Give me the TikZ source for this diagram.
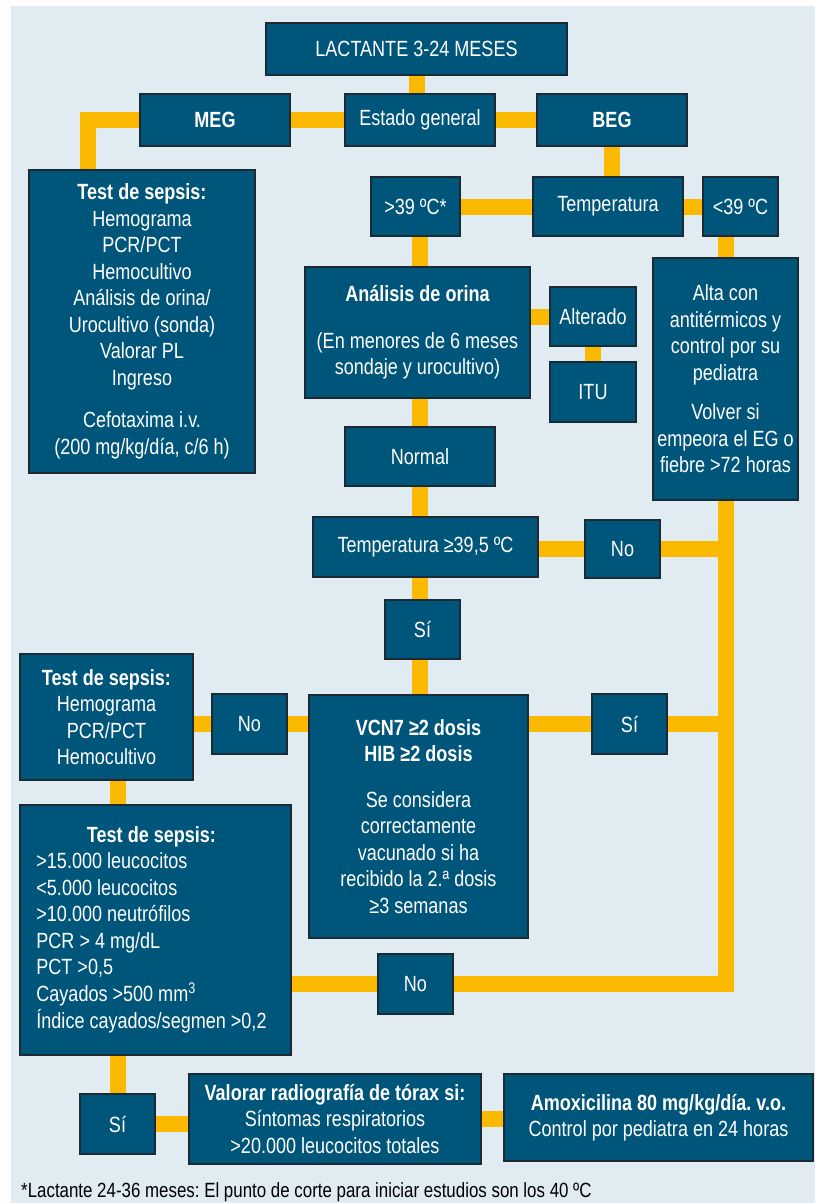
\documentclass[tikz,border=0pt]{standalone}
\usepackage{fontspec}
\setmainfont{Liberation Sans}[FakeStretch=0.82]
\usepackage{tikz}
\usetikzlibrary{positioning, backgrounds}
\definecolor{boxblue}{HTML}{00557A}
\definecolor{boxedge}{HTML}{1C2B33}
\definecolor{linkyellow}{HTML}{FBBA00}
\definecolor{panel}{HTML}{E0EBF2}
\frenchspacing

\begin{document}
\begin{tikzpicture}[x=1pt, y=-1pt,
  box/.style={draw=boxedge, line width=1.2pt, fill=boxblue, text=white,
    align=center, inner sep=0pt, font=\fontsize{22}{26.5}\selectfont},
  link/.style={draw=linkyellow, line width=16pt}]
  \useasboundingbox (0,0) rectangle (815,1203);

  % Panel
  \begin{scope}[on background layer]
    \fill[panel] (11,6) rectangle (815,1203);
  \end{scope}

  % Top rows
  \node[box, minimum width=301pt, minimum height=52pt] (lact) at (416.5,49)
    {LACTANTE 3-24 MESES};
  \node[box, minimum width=150pt, minimum height=52pt] (meg) at (215,120)
    {\bfseries MEG};
  \node[box, minimum width=150pt, minimum height=52pt] (estado) at (420,120)
    {Estado general};
  \node[box, minimum width=150pt, minimum height=52pt] (beg) at (612,120)
    {\bfseries BEG};

  \node[box, minimum width=226pt, minimum height=303pt] (test1) at (142,321.5)
    {\textbf{Test de sepsis:}\\ Hemograma\\ PCR/PCT\\ Hemocultivo\\
     Análisis de orina/\\ Urocultivo (sonda)\\ Valorar PL\\ Ingreso\\[16pt]
     Cefotaxima i.v.\\ (200 mg/kg/día, c/6 h)};

  \node[box, minimum width=89pt, minimum height=59pt] (gt39) at (415.5,206.5)
    {>39 ºC*};
  \node[box, minimum width=150pt, minimum height=59pt] (temp) at (608,206.5)
    {Temperatura};
  \node[box, minimum width=75pt, minimum height=59pt] (lt39) at (740.5,206.5)
    {<39 ºC};

  % Urine and discharge
  \node[box, minimum width=225pt, minimum height=131pt] (anal) at (417.5,332.5)
    {\textbf{Análisis de orina}\\[20pt] (En menores de 6 meses\\ sondaje y urocultivo)};
  \node[box, minimum width=86pt, minimum height=59pt] (alt) at (593,316.5)
    {Alterado};
  \node[box, minimum width=86pt, minimum height=60pt] (itu) at (593,392)
    {ITU};
  \node[box, minimum width=145pt, minimum height=242pt] (alta) at (725.5,379)
    {Alta con\\ antitérmicos y\\ control por su\\ pediatra\\[13pt]
     Volver si\\ empeora el EG o\\ fiebre >72 horas};
  \node[box, minimum width=150pt, minimum height=59pt] (normal) at (420,456.5)
    {Normal};

  % Fever and vaccines
  \node[box, minimum width=225pt, minimum height=60pt] (t395) at (425.5,547)
    {Temperatura ≥39,5 ºC};
  \node[box, minimum width=75pt, minimum height=58pt] (no1) at (622.5,549)
    {No};
  \node[box, minimum width=75pt, minimum height=59pt] (si1) at (422.5,629.5)
    {Sí};
  \node[box, minimum width=173pt, minimum height=126pt] (test2) at (106.5,717)
    {\textbf{Test de sepsis:}\\ Hemograma\\ PCR/PCT\\ Hemocultivo};
  \node[box, minimum width=75pt, minimum height=60pt] (no2) at (249.5,724)
    {No};
  \node[box, minimum width=219pt, minimum height=243pt] (vcn) at (418.5,816.5)
    {\textbf{VCN7 ≥2 dosis}\\ \textbf{HIB ≥2 dosis}\\[19pt]
     Se considera\\ correctamente\\ vacunado si ha\\ recibido la 2.ª dosis\\ ≥3 semanas};
  \node[box, minimum width=75pt, minimum height=60pt] (si2) at (629.5,724)
    {Sí};

  % Lab criteria and treatment
  \node[box, minimum width=271pt, minimum height=250pt] (test3) at (155.5,930)
    {\begin{tabular}{@{}l@{\hspace{8pt}}}
     \multicolumn{1}{@{}c@{\hspace{8pt}}}{\bfseries Test de sepsis:}\\
     >15.000 leucocitos\\ <5.000 leucocitos\\ >10.000 neutrófilos\\
     PCR > 4 mg/dL\\ PCT >0,5\\ Cayados >500 mm\textsuperscript{3}\\
     Índice cayados/segmen >0,2
     \end{tabular}};
  \node[box, minimum width=75pt, minimum height=60pt] (nob) at (415.5,984)
    {No};
  \node[box, minimum width=75pt, minimum height=60pt] (sib) at (117.5,1124)
    {Sí};
  \node[box, minimum width=292pt, minimum height=90pt] (valorar) at (335,1119)
    {\textbf{Valorar radiografía de tórax si:}\\ Síntomas respiratorios\\
     >20.000 leucocitos totales};
  \node[box, minimum width=309pt, minimum height=87pt] (amox) at (658.5,1117.5)
    {\textbf{Amoxicilina 80 mg/kg/día. v.o.}\\ Control por pediatra en 24 horas};

  \node[anchor=base west, inner sep=0pt, font=\fontsize{20.6}{24}\selectfont]
    (nota) at (21,1197)
    {*Lactante 24-36 meses: El punto de corte para iniciar estudios son los 40 ºC};

  % Connectors
  \begin{scope}[on background layer]
    \draw[link] (lact.south) -- (lact.south |- estado.north);
    \draw[link] (meg) -- (beg);
    \draw[link] (meg.west) -| ([xshift=-54pt]test1.north);
    \draw[link] (beg.south) -- (beg.south |- temp.north);
    \draw[link] (gt39) -- (lt39);
    \draw[link] (alta.north) -- (alta.north |- lt39.south);
    \draw[link] (normal |- gt39.south) -- (normal |- vcn.north);
    \draw[link] (alt.west -| anal.east) -- (alt.west);
    \draw[link] (alt) -- (itu);
    \draw[link] (no1 -| t395.east) -- (no1.center) -- (no1 -| alta);
    \draw[link] (no2 -| test2.east) -- (no2.center) -- (no2 -| vcn.west);
    \draw[link] (si2 -| vcn.east) -- (si2.center) -- (si2 -| alta);
    \draw[link] (nob -| test3.east) -- (nob.center) -| (alta.south);
    \draw[link] (test2.south -| sib) -- (test3.north -| sib);
    \draw[link] (test3.south -| sib) -- (sib);
    \draw[link] (sib.east) -- (sib.east -| valorar.west);
    \draw[link] (valorar.east) -- (valorar.east -| amox.west);
  \end{scope}
\end{tikzpicture}
\end{document}
